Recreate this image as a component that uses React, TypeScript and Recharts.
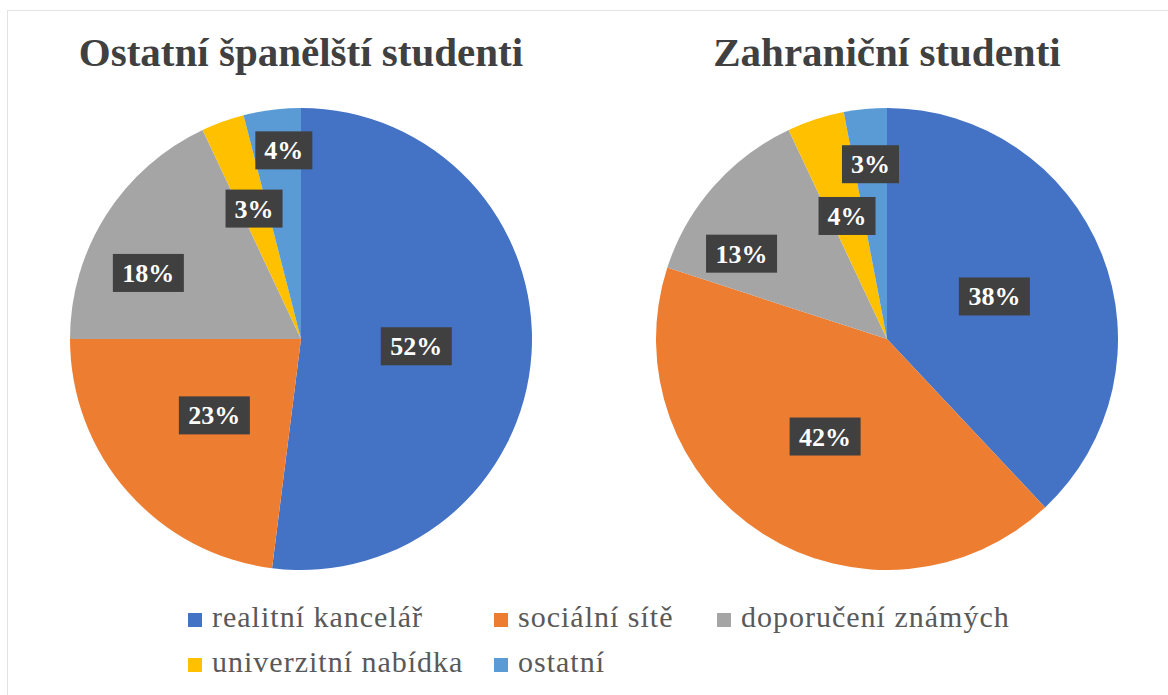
import React from 'react';
import { PieChart, Pie, Cell, Legend } from 'recharts';

const categories = ['realitní kancelář', 'sociální sítě', 'doporučení známých', 'univerzitní nabídka', 'ostatní'];
const spanishValues = [52, 23, 18, 3, 4];
const foreignValues = [38, 42, 13, 4, 3];
const titles = ['Ostatní španělští studenti', 'Zahraniční studenti'];

const colors = ['#4472C4', '#ED7D31', '#A5A5A5', '#FFC000', '#5B9BD5'];
// label placement: fraction of radius and angle nudge (deg) per slice
const spanishLabelPos = [0.5, 0.5, 0.72, 0.6, 0.82];
const foreignLabelPos = [0.5, 0.5, 0.73, 0.56, 0.76];
const spanishLabelShift = [0, 0, 9, 0, -2];
const foreignLabelShift = [0, 0, 11, 0, 0];

const spanishData = categories.map((name, i) => ({ name, value: spanishValues[i] }));
const foreignData = categories.map((name, i) => ({ name, value: foreignValues[i] }));

const RAD = Math.PI / 180;
const serif = 'Liberation Serif';

const makeLabel = (pos: number[], shift: number[]) => (props: any) => {
  const { cx, cy, midAngle, outerRadius, index, value } = props;
  const r = outerRadius * pos[index];
  const a = midAngle + shift[index];
  const x = cx + r * Math.cos(-a * RAD);
  const y = cy + r * Math.sin(-a * RAD);
  const text = `${value}%`;
  const w = text.length > 2 ? 71 : 57;
  const h = 38;
  return (
    <g>
      <rect x={x - w / 2} y={y - h / 2} width={w} height={h} fill="#404040" />
      <text
        x={x}
        y={y + 9}
        textAnchor="middle"
        fill="#fff"
        style={{ fontFamily: serif, fontWeight: 'bold', fontSize: 26 }}
      >
        {text}
      </text>
    </g>
  );
};

const LegendContent = () => (
  <div
    style={{
      display: 'grid',
      gridTemplateColumns: '306px 223px auto',
      rowGap: 12,
      marginLeft: 188,
      color: '#595959',
      lineHeight: '33px',
    }}
  >
    {categories.map((name, i) => (
      <div key={name} style={{ display: 'flex', alignItems: 'center', whiteSpace: 'nowrap' }}>
        <span style={{ width: 14, height: 14, background: colors[i], marginRight: 10, marginTop: 6 }} />
        <span style={{ fontFamily: serif, fontSize: 30, letterSpacing: 1 }}>{name}</span>
      </div>
    ))}
  </div>
);

export default function App() {
  return (
    <div style={{ position: 'absolute', left: 0, top: 0, width: 1168, height: 695, background: '#fff', overflow: 'hidden' }}>
      <div
        style={{
          position: 'absolute',
          left: 7,
          top: 10,
          width: 1200,
          height: 720,
          border: '1.5px solid #e3e3e3',
        }}
      />
      {titles.map((t, i) => (
        <div
          key={t}
          style={{
            position: 'absolute',
            left: i === 0 ? 301 - 300 : 887 - 300,
            width: 600,
            top: 28,
            textAlign: 'center',
            fontFamily: serif,
            fontWeight: 'bold',
            fontSize: 41,
            lineHeight: '48px',
            color: '#404040',
          }}
        >
          {t}
        </div>
      ))}
      <div style={{ position: 'absolute', left: 0, top: 0 }}>
        <PieChart width={1168} height={695} margin={{ top: 0, right: 0, bottom: 0, left: 0 }}>
          <Pie
            data={spanishData}
            dataKey="value"
            nameKey="name"
            cx={301}
            cy={339}
            outerRadius={231}
            startAngle={90}
            endAngle={-270}
            stroke="none"
            labelLine={false}
            label={makeLabel(spanishLabelPos, spanishLabelShift)}
            isAnimationActive={false}
          >
            {spanishData.map((d, i) => (
              <Cell key={d.name} fill={colors[i]} />
            ))}
          </Pie>
          <Pie
            data={foreignData}
            dataKey="value"
            nameKey="name"
            cx={887}
            cy={339}
            outerRadius={231}
            startAngle={90}
            endAngle={-270}
            stroke="none"
            labelLine={false}
            label={makeLabel(foreignLabelPos, foreignLabelShift)}
            isAnimationActive={false}
          >
            {foreignData.map((d, i) => (
              <Cell key={d.name} fill={colors[i]} />
            ))}
          </Pie>
          <Legend
            content={<LegendContent />}
            wrapperStyle={{ position: 'absolute', left: 0, top: 600, width: 1168 }}
          />
        </PieChart>
      </div>
    </div>
  );
}
